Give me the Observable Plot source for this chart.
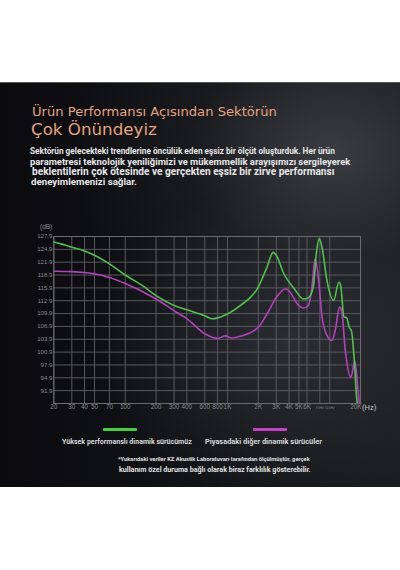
<!DOCTYPE html>
<html>
<head>
<meta charset="utf-8">
<script src="https://cdn.jsdelivr.net/npm/d3@7"></script>
<script src="https://cdn.jsdelivr.net/npm/@observablehq/plot@0.6"></script>
<style>
  html, body { margin: 0; padding: 0; background: #fff; }
  #wrap { position: relative; width: 400px; height: 570px; background: #fff; overflow: hidden; font-family: Roboto, "Open Sans", sans-serif; }
  #panel { position: absolute; left: 0; top: 82px; width: 400px; height: 405px;
    background:
      radial-gradient(ellipse 260px 200px at 330px 70px, rgba(70,72,78,0.75), rgba(40,42,46,0.3) 55%, rgba(0,0,0,0) 100%),
      radial-gradient(ellipse 200px 160px at 290px 260px, rgba(60,62,68,0.55), rgba(0,0,0,0) 100%),
      linear-gradient(90deg, #0b0b0e 0%, #121317 50%, #1c1d21 100%);
    border-top: 1px solid #555; box-sizing: border-box; }
  .t { position: absolute; white-space: nowrap; line-height: 1; transform: translateY(-50%); font-size: 10px; }
  .title { color: #e6a47e; font-weight: 400; line-height: 0.85; font-family: "DejaVu Sans", sans-serif; }
  .p { color: #e6e6e6; font-weight: 700; }
  #chart { position: absolute; left: 0; top: 220px; }
  .leg { position: absolute; height: 3px; width: 34px; border-radius: 1px; }
  .lt { color: #d8d8d8; font-weight: 700; }
  .fn { color: #e0e0e0; font-weight: 700; }
</style>
</head>
<body>
<div id="wrap">
  <div id="panel"></div>
  <div class="t title" style="left:32px; top:112px;" data-w="245">Ürün Performansı Açısından Sektörün</div>
  <div class="t title" style="left:31px; top:129px;" data-w="126">Çok Önündeyiz</div>
  <div class="t p" style="left:30px; top:151px;" data-w="305">Sektörün gelecekteki trendlerine öncülük eden eşsiz bir ölçüt oluşturduk. Her ürün</div>
  <div class="t p" style="left:30px; top:162px;" data-w="321">parametresi teknolojik yeniliğimizi ve mükemmellik arayışımızı sergileyerek</div>
  <div class="t p" style="left:32px; top:172px;" data-w="303">beklentilerin çok ötesinde ve gerçekten eşsiz bir zirve performansı</div>
  <div class="t p" style="left:31px; top:182px;" data-w="106">deneyimlemenizi sağlar.</div>
  <div id="chart"></div>
  <div class="t" style="left:40px; top:227px; font-size:6.5px; color:#8a8a90; font-family:'Liberation Sans', sans-serif;">(dB)</div>
  <div class="t" style="left:362px; top:408px; font-size:7.5px; color:#c8c8cc;">(Hz)</div>
  <div class="leg" style="left:103px; top:428px; background:#3fd23f;"></div>
  <div class="leg" style="left:253px; top:428px; background:#c83ec8;"></div>
  <div class="t lt" style="left:62px; top:442px;" data-w="130">Yüksek performanslı dinamik sürücümüz</div>
  <div class="t lt" style="left:205px; top:442px;" data-w="117">Piyasadaki diğer dinamik sürücüler</div>
  <div class="t fn" style="left:118px; top:460px;" data-w="192">*Yukarıdaki veriler KZ Akustik Laboratuvarı tarafından ölçülmüştür, gerçek</div>
  <div class="t fn" style="left:119px; top:470px;" data-w="192">kullanım özel duruma bağlı olarak biraz farklılık gösterebilir.</div>
</div>
<script>
// Frequency response data (Hz, dB)
const greenFreq = [20, 25, 30, 40, 50, 70, 100, 150, 200, 300, 400, 600, 700, 800, 1000, 1340, 2000, 2430, 2800, 3000, 3560, 4500, 5550, 6200, 6900, 7400, 7900, 8400, 9400, 10900, 12300, 12800, 13800, 14600, 15500, 16300, 17400, 18200, 18800];
const greenDb   = [126.6, 126.0, 125.4, 124.5, 123.5, 121.5, 118.9, 116.3, 114.1, 111.8, 110.8, 109.4, 108.7, 108.9, 109.8, 111.8, 116.1, 120.7, 124.2, 123.5, 119.2, 115.7, 113.3, 113.6, 116.1, 123.9, 127.4, 125.4, 117.6, 113.0, 117.2, 116.4, 109.1, 109.0, 106.7, 105.9, 98.9, 91.2, 87.5];
const magFreq = [20, 30, 40, 50, 70, 100, 200, 300, 400, 600, 800, 950, 1100, 1340, 2000, 2430, 3100, 3700, 4100, 4800, 5550, 6200, 6700, 7200, 7800, 8400, 9400, 10500, 11300, 12500, 13100, 14200, 16100, 17600, 18600, 19600];
const magDb   = [119.8, 119.7, 119.5, 119.2, 118.3, 116.9, 113.3, 110.6, 108.7, 105.2, 104.1, 104.7, 104.2, 104.6, 106.7, 109.8, 114.1, 115.7, 114.9, 112.2, 111.2, 111.8, 116.1, 122.7, 117.6, 109.1, 104.8, 103.6, 105.9, 111.4, 110.5, 101.3, 95.0, 98.9, 94.0, 88.0];

// Axis ticks and labels
const xTicks = [20, 30, 40, 50, 70, 100, 200, 300, 400, 600, 800, 1000, 2000, 3000, 4000, 5000, 6000, 8000, 10000, 20000];
const xTickLabels = ["20", "30", "40", "50", "70", "100", "200", "300", "400", "600", "800", "1K", "2K", "3K", "4K", "5K", "6K", "", "", "20K"];
const xTinyTicks = [8000, 10000];
const xTinyLabels = ["8 kHz", "10 kHz"];
const yTicks = [91.9, 94.9, 97.9, 100.9, 103.9, 106.9, 109.9, 112.9, 115.9, 118.9, 121.9, 124.9, 127.9];
const yDomain = [88.9, 127.9];
const xDomain = [20, 20000];

// fit text widths to the reference layout
document.querySelectorAll("[data-w]").forEach(el => {
  const target = +el.dataset.w;
  const w = el.getBoundingClientRect().width;
  el.style.fontSize = (10 * target / w).toFixed(2) + "px";
});

const green = greenFreq.map((f, i) => ({f, db: greenDb[i]}));
const mag = magFreq.map((f, i) => ({f, db: magDb[i]}));
const xLab = xTicks.map((f, i) => ({f, label: xTickLabels[i]}));
const xLabMid = xLab.filter(d => d.f < xDomain[1]);
const xLabEnd = xLab.filter(d => d.f >= xDomain[1]);
const xTiny = xTinyTicks.map((f, i) => ({f, label: xTinyLabels[i]}));

const gridColor = "#5e6066";
const lab = "#8a8a90";
const chart = Plot.plot({
  width: 400,
  height: 198,
  marginTop: 16,
  marginBottom: 15,
  marginLeft: 53.3,
  marginRight: 40,
  style: {background: "transparent", color: lab, fontFamily: "'Liberation Sans', Arial, sans-serif"},
  x: {type: "log", domain: xDomain, axis: null},
  y: {domain: yDomain, axis: null},
  marks: [
    Plot.gridX(xTicks, {stroke: gridColor, strokeOpacity: 1, strokeWidth: 0.9}),
    Plot.gridY(yTicks, {stroke: gridColor, strokeOpacity: 1, strokeWidth: 0.9}),
    Plot.frame({stroke: "#6a6c72", strokeWidth: 1}),
    Plot.text(xLabMid, {x: "f", text: "label", frameAnchor: "bottom", dy: 5.5, fontSize: 6.4, fill: lab}),
    Plot.text(xLabEnd, {x: "f", text: "label", frameAnchor: "bottom", dy: 5.5, dx: 1, fontSize: 6.4, fill: lab, textAnchor: "end"}),
    Plot.text(xTiny, {x: "f", text: "label", frameAnchor: "bottom", dy: 5, fontSize: 3, fill: lab}),
    Plot.axisY(yTicks, {tickSize: 0, tickPadding: 1.5, fontSize: 6, tickFormat: d => d.toFixed(1), label: null, fill: lab}),
    Plot.line(mag, {x: "f", y: "db", stroke: "#b83fbf", strokeWidth: 1.6, curve: "monotone-x", clip: true}),
    Plot.line(green, {x: "f", y: "db", stroke: "#4ec24a", strokeWidth: 1.6, curve: "monotone-x", clip: true})
  ]
});
document.getElementById("chart").appendChild(chart);
</script>
</body>
</html>
